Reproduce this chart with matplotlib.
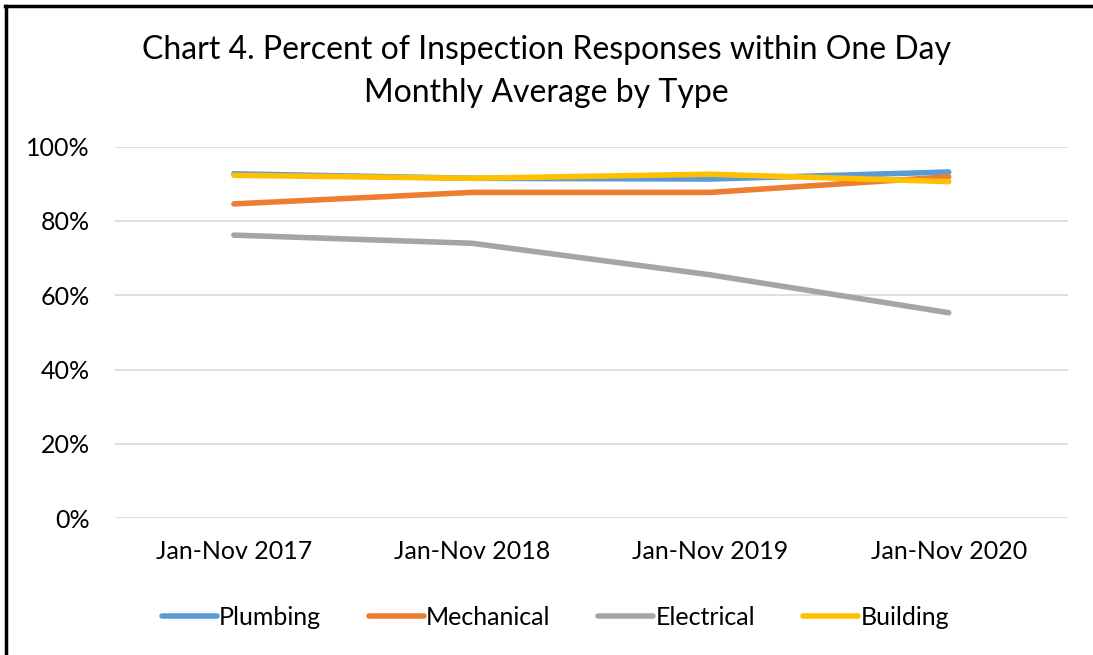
import matplotlib.pyplot as plt
from matplotlib.lines import Line2D
from matplotlib.ticker import PercentFormatter

# ===== data =====
periods = ["Jan-Nov 2017", "Jan-Nov 2018", "Jan-Nov 2019", "Jan-Nov 2020"]
plumbing = [92.7, 91.5, 91.3, 93.2]
mechanical = [84.6, 87.7, 87.7, 91.9]
electrical = [76.2, 74.0, 65.5, 55.3]
building = [92.3, 91.5, 92.6, 90.6]

series = [
    ("Plumbing", plumbing, "#5B9BD5"),
    ("Mechanical", mechanical, "#ED7D31"),
    ("Electrical", electrical, "#A5A5A5"),
    ("Building", building, "#FFC000"),
]

plt.rcParams["font.family"] = ["Lato", "DejaVu Sans"]

fig = plt.figure(figsize=(10.93, 6.55), dpi=100)
ax = fig.add_axes([0.105, 0.209, 0.872, 0.567])

x = list(range(len(periods)))
for name, vals, color in series:
    ax.plot(x, vals, color=color, lw=4.0, solid_capstyle="round",
            solid_joinstyle="round", label=name)

ax.set_xlim(-0.5, len(periods) - 0.5)
ax.set_ylim(0, 100)
ax.set_yticks(range(0, 101, 20))
ax.yaxis.set_major_formatter(PercentFormatter(decimals=0))
ax.set_xticks(x)
ax.set_xticklabels(periods)
ax.grid(axis="y", color="#D9D9D9", lw=1.2)
ax.set_axisbelow(True)
for s in ax.spines.values():
    s.set_visible(False)
ax.tick_params(length=0, labelsize=18, colors="#000000")
ax.tick_params(axis="x", pad=16)
ax.tick_params(axis="y", pad=18)

fig.text(0.5, 0.924, "Chart 4. Percent of Inspection Responses within One Day",
         ha="center", va="center", fontsize=23)
fig.text(0.5, 0.858, "Monthly Average by Type", ha="center", va="center",
         fontsize=23)

fig.legend(loc="center", bbox_to_anchor=(0.508, 0.058), ncol=4, frameon=False,
           fontsize=18, handlelength=2.2, handletextpad=0.1, columnspacing=1.9)

# frame lines (top and left)
fig.add_artist(Line2D([0.005, 1.0], [1 - 6 / 655, 1 - 6 / 655], color="black",
                      lw=2.5, transform=fig.transFigure))
fig.add_artist(Line2D([6 / 1093, 6 / 1093], [0.0, 1 - 6 / 655], color="black",
                      lw=2.5, transform=fig.transFigure))

fig.savefig("out.png", dpi=100)
